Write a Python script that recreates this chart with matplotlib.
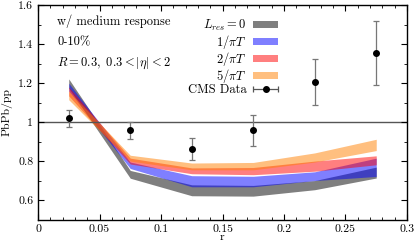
import numpy as np
import matplotlib
matplotlib.use('Agg')
import matplotlib.pyplot as plt
from matplotlib.patches import Patch
from matplotlib.ticker import MultipleLocator, FuncFormatter
from matplotlib.legend_handler import HandlerErrorbar

plt.rcParams['font.family'] = 'serif'
plt.rcParams['font.serif'] = ['cmr10']
plt.rcParams['mathtext.fontset'] = 'cm'
plt.rcParams['axes.unicode_minus'] = False

# bin centres in r
r = [0.025, 0.075, 0.125, 0.175, 0.225, 0.275]

# model bands (lower / upper edge) for each L_res
lres0_lo = [1.175, 0.712, 0.622, 0.620, 0.653, 0.713]
lres0_hi = [1.222, 0.752, 0.678, 0.675, 0.700, 0.769]
lres1_lo = [1.160, 0.762, 0.668, 0.668, 0.700, 0.721]
lres1_hi = [1.200, 0.795, 0.725, 0.722, 0.745, 0.815]
lres2_lo = [1.135, 0.785, 0.735, 0.730, 0.748, 0.781]
lres2_hi = [1.180, 0.815, 0.765, 0.767, 0.800, 0.827]
lres5_lo = [1.115, 0.800, 0.755, 0.755, 0.795, 0.854]
lres5_hi = [1.160, 0.830, 0.790, 0.793, 0.842, 0.912]

band_labels = [r'$L_{res}=0$', r'$1/\pi T$', r'$2/\pi T$', r'$5/\pi T$']

# CMS data
cms_y = [1.020, 0.958, 0.862, 0.958, 1.207, 1.354]
cms_err = [0.043, 0.045, 0.058, 0.079, 0.117, 0.165]

fig = plt.figure(figsize=(4.15, 2.46), dpi=100)
ax = fig.add_axes([0.0916, 0.1077, 0.8891, 0.8708])

bands = [(lres0_lo, lres0_hi, 'black'),
         (lres1_lo, lres1_hi, 'blue'),
         (lres2_lo, lres2_hi, 'red'),
         (lres5_lo, lres5_hi, '#ff8000')]
handles = []
for (lo, hi, c), lab in zip(bands, band_labels):
    ax.fill_between(r, lo, hi, color=c, alpha=0.5, lw=0)
    handles.append(Patch(facecolor=c, alpha=0.5, edgecolor='none', label=lab))

ax.axhline(1.0, color='#555555', lw=1.0, zorder=1)

ax.errorbar(r, cms_y, yerr=cms_err, fmt='o', color='black', ms=4,
            ecolor='#777777', elinewidth=0.9, capsize=2, capthick=0.9, zorder=5)
# dummy with horizontal bar for the legend symbol
leg_eb = ax.errorbar([np.nan], [np.nan], xerr=[0.1], fmt='o', color='black', ms=4,
                     ecolor='#555555', elinewidth=0.9, capsize=2, capthick=0.9,
                     label='CMS Data')
handles.append(leg_eb)

ax.set_xlim(0, 0.3)
ax.set_ylim(0.5, 1.6)
ax.xaxis.set_major_locator(MultipleLocator(0.05))
ax.xaxis.set_minor_locator(MultipleLocator(0.01))
ax.yaxis.set_major_locator(MultipleLocator(0.2))
ax.yaxis.set_minor_locator(MultipleLocator(0.1))
fmt = FuncFormatter(lambda v, p: '%g' % round(v, 3))
ax.xaxis.set_major_formatter(fmt)
ax.yaxis.set_major_formatter(fmt)
ax.tick_params(which='both', direction='in', top=True, right=True, labelsize=8.5)
ax.tick_params(which='major', length=4, width=0.8)
ax.tick_params(which='minor', length=2, width=0.6)
for s in ax.spines.values():
    s.set_linewidth(1.0)

ax.set_xlabel('r', fontsize=8.5, labelpad=-1)
ax.set_ylabel('PbPb/pp', fontsize=8.5, labelpad=4)

ax.text(0.0515, 0.927, 'w/ medium response', transform=ax.transAxes, fontsize=9, va='center')
ax.text(0.0515, 0.829, '0-10%', transform=ax.transAxes, fontsize=9, va='center')
ax.text(0.0515, 0.73, r'$R=0.3,\ 0.3<|\eta|<2$', transform=ax.transAxes, fontsize=9, va='center')

ax.legend(handles=handles, loc='upper right', bbox_to_anchor=(0.651, 0.94),
          frameon=False, markerfirst=False, fontsize=9, handlelength=2.0,
          handleheight=0.5, labelspacing=-0.06, handletextpad=0.55, borderpad=0,
          borderaxespad=0,
          handler_map={type(leg_eb): HandlerErrorbar(xerr_size=1.0)})

fig.savefig('out.png', dpi=100)
